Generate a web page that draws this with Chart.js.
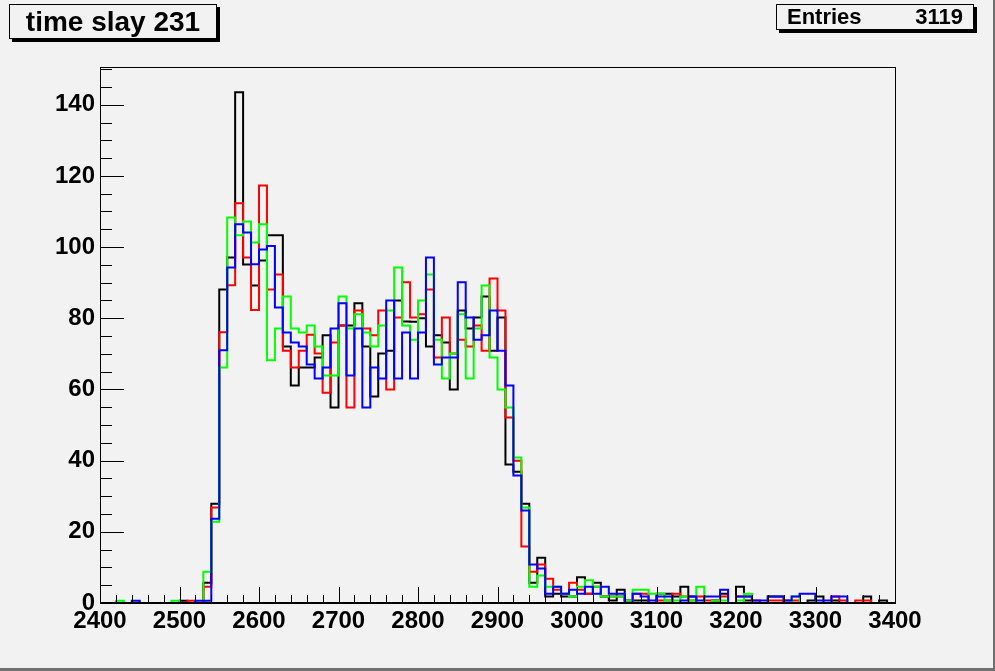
<!DOCTYPE html>
<html>
<head>
<meta charset="utf-8">
<title>time slay 231</title>
<script src="https://cdn.jsdelivr.net/npm/chart.js@4.4.1/dist/chart.umd.min.js"></script>
<style>
  html, body { margin: 0; padding: 0; background: #f2f2f2; }
  #wrap { position: relative; width: 995px; height: 671px; }
  .pave {
    position: absolute; background: #f2f2f2; border: 1px solid #000;
    box-shadow: 3px 3px 0 #000; color: #000;
    font-family: "Liberation Sans", Arial, sans-serif; font-weight: bold;
  }
  #title { left: 9px; top: 4px; width: 206px; height: 33px; font-size: 28px; line-height: 33px; text-align: center; }
  #stats { left: 776px; top: 4px; width: 196px; height: 24px; font-size: 22px; line-height: 24px; }
  #stats .k { position: absolute; left: 10px; }
  #stats .v { position: absolute; right: 10px; }
</style>
</head>
<body>
<div id="wrap">
  <canvas id="dataPlot" width="995" height="671"></canvas>
  <div class="pave" id="title">time slay 231</div>
  <div class="pave" id="stats"><span class="k">Entries</span><span class="v">3119</span></div>
</div>
<script>
// histogram binning: 100 bins of 10 from 2400 to 3400
const xMin = 2400;
const xMax = 3400;
const binWidth = 10;
const yMax = 150.6;

const xTicks = [2400, 2500, 2600, 2700, 2800, 2900, 3000, 3100, 3200, 3300, 3400];
const yTicks = [0, 20, 40, 60, 80, 100, 120, 140];

// bin contents, one row per 100 in x
const blackCounts = [
  0, 0, 0, 0, 0, 0, 0, 0, 0, 0,
  0.6, 0, 0, 5.7, 27.9, 88.1, 97.1, 143.5, 95.1, 89.2,
  96.2, 103.3, 103.3, 72.1, 61.1, 66.2, 66.2, 69.0, 75.2, 54.9,
  78.0, 78.0, 84.2, 72.1, 58.0, 70.1, 70.9, 85.0, 79.1, 79.0,
  80.0, 72.1, 75.2, 73.2, 60.0, 82.2, 77.1, 80.2, 86.1, 70.9,
  80.2, 38.9, 36.9, 27.9, 5.7, 12.7, 1.8, 2.6, 1.8, 1.8,
  7.2, 2.6, 5.7, 1.8, 0.7, 3.7, 0.7, 0.7, 0.7, 0,
  2.6, 2.6, 1.8, 4.6, 1.8, 0, 0, 0.7, 2.6, 0,
  4.6, 0.7, 0, 0, 1.8, 1.8, 0, 0, 0, 0.7,
  1.8, 0, 0.7, 0, 0, 0, 1.8, 0, 0.7, 0
];
const redCounts = [
  0, 0, 0, 0, 0, 0, 0, 0, 0, 0,
  0, 0.6, 0, 4.6, 26.8, 76.1, 89.3, 112.3, 97.1, 82.3,
  117.3, 88.1, 92.3, 70.9, 66.2, 70.9, 75.4, 70.1, 59.1, 73.2,
  78.0, 54.9, 82.2, 77.1, 75.2, 82.2, 60.0, 80.2, 90.1, 80.2,
  81.1, 88.1, 69.0, 80.2, 70.1, 74.0, 72.1, 78.0, 70.9, 91.2,
  82.2, 52.1, 40.0, 15.9, 8.8, 10.8, 6.8, 3.7, 2.6, 5.7,
  3.7, 2.6, 4.6, 1.8, 1.8, 1.8, 0.7, 2.6, 2.6, 0,
  0.7, 0.7, 2.6, 1.8, 0.7, 1.8, 0.7, 0.7, 1.8, 0,
  1.8, 1.8, 0.7, 0, 0.7, 0.7, 0.7, 0.7, 0, 0,
  0, 0, 1.8, 0.7, 0, 0.7, 0.7, 0, 0, 0
];
const greenCounts = [
  0, 0, 0.6, 0, 0, 0, 0, 0, 0, 0.6,
  0, 0, 0, 8.8, 22.8, 66.2, 108.3, 103.3, 107.2, 101.3,
  106.4, 68.2, 77.1, 86.1, 77.1, 76.0, 78.0, 72.1, 63.9, 63.9,
  86.1, 77.1, 81.1, 76.0, 72.1, 78.0, 82.2, 94.3, 78.0, 74.0,
  85.0, 92.3, 74.0, 63.1, 70.1, 81.1, 63.1, 77.1, 89.2, 69.0,
  60.0, 54.9, 40.9, 26.8, 4.6, 7.7, 4.6, 4.6, 2.6, 1.8,
  4.6, 6.4, 4.6, 1.8, 1.8, 1.8, 0.7, 3.7, 3.7, 2.6,
  2.6, 0.7, 0.7, 1.8, 0.7, 4.6, 0, 0.7, 0.7, 0,
  0.7, 2.6, 0, 0, 0, 0, 0, 1.8, 0, 0,
  0, 0, 0, 0, 0, 0, 0, 0, 0, 0
];
const blueCounts = [
  0, 0, 0, 0, 0.6, 0, 0, 0, 0, 0,
  0, 0, 0.6, 0.6, 23.7, 71.0, 94.3, 106.4, 104.1, 95.2,
  99.3, 100.3, 83.0, 76.0, 73.2, 72.1, 67.0, 63.1, 66.2, 77.1,
  84.2, 63.9, 77.1, 54.9, 66.2, 63.1, 85.0, 63.1, 76.0, 63.1,
  76.0, 97.1, 67.0, 69.0, 69.0, 90.1, 80.2, 74.0, 75.2, 82.2,
  70.9, 61.1, 35.8, 26.0, 10.8, 9.7, 2.6, 4.6, 2.6, 3.7,
  2.6, 4.6, 2.6, 4.6, 2.6, 2.6, 0, 2.6, 1.8, 0.7,
  1.8, 1.8, 0, 0.7, 1.8, 0.7, 1.8, 1.8, 3.7, 0,
  1.8, 1.8, 0.7, 0.7, 1.8, 1.8, 0.7, 1.8, 2.6, 2.6,
  0.7, 0.7, 1.8, 1.8, 0, 0, 0, 0, 0, 0
];

const nBins = blackCounts.length;
const binEdges = Array.from({length: nBins + 1}, (_, i) => xMin + i * binWidth);

// step outline: one point per lower bin edge, plus the closing upper edge
function histPoints(counts) {
  const pts = counts.map((v, i) => ({x: binEdges[i], y: v}));
  pts.push({x: binEdges[nBins], y: counts[nBins - 1]});
  return pts;
}

function histSet(label, counts, color) {
  return {
    label: label,
    data: histPoints(counts),
    borderColor: color,
    borderWidth: 2,
    stepped: 'before',
    pointRadius: 0,
    fill: false,
    borderCapStyle: 'butt',
    borderJoinStyle: 'miter'
  };
}

const labelFont = {family: '"Liberation Sans", Arial, sans-serif', size: 24, weight: 'bold'};

// canvas border, frame and ROOT-like inner tick marks
const rootFrame = {
  id: 'rootFrame',
  beforeDraw(chart) {
    const ctx = chart.ctx;
    ctx.save();
    ctx.fillStyle = '#f2f2f2';
    ctx.fillRect(0, 0, chart.width, chart.height);
    ctx.fillStyle = '#707070';
    ctx.fillRect(chart.width - 2, 0, 2, chart.height);
    ctx.fillRect(0, chart.height - 3, chart.width, 3);
    ctx.restore();
  },
  afterDatasetsDraw(chart) {
    const ctx = chart.ctx;
    const a = chart.chartArea;
    const xs = chart.scales.x;
    const ys = chart.scales.y;
    ctx.save();
    ctx.strokeStyle = '#000';
    ctx.lineWidth = 1;
    ctx.strokeRect(Math.round(a.left) + 0.5, Math.round(a.top) + 0.5,
      Math.round(a.right - a.left), Math.round(a.bottom - a.top));
    ctx.beginPath();
    for (let v = xMin; v <= xMax; v += 20) {
      const px = Math.round(xs.getPixelForValue(v)) + 0.5;
      const len = (v % 100 === 0) ? 16 : 8;
      ctx.moveTo(px, a.bottom);
      ctx.lineTo(px, a.bottom - len);
    }
    for (let v = 0; v <= yMax; v += 5) {
      const py = Math.round(ys.getPixelForValue(v)) + 0.5;
      const len = (v % 20 === 0) ? 24 : 12;
      ctx.moveTo(a.left, py);
      ctx.lineTo(a.left + len, py);
    }
    ctx.stroke();
    ctx.lineWidth = 2;
    ctx.beginPath();
    ctx.moveTo(a.left, a.bottom);
    ctx.lineTo(a.right, a.bottom);
    ctx.stroke();
    ctx.restore();
  }
};

new Chart(document.getElementById('dataPlot'), {
  type: 'line',
  data: {
    datasets: [
      histSet('blue', blueCounts, '#0000ff'),
      histSet('green', greenCounts, '#00ff00'),
      histSet('red', redCounts, '#ff0000'),
      histSet('black', blackCounts, '#000000')
    ]
  },
  options: {
    responsive: false,
    animation: false,
    events: [],
    layout: {padding: {top: 67, right: 100, left: 0, bottom: 0}},
    plugins: {
      legend: {display: false},
      title: {display: false},
      tooltip: {enabled: false}
    },
    scales: {
      x: {
        type: 'linear',
        min: xMin,
        max: xMax,
        grid: {display: false, drawTicks: false},
        border: {display: false},
        afterBuildTicks: s => { s.ticks = xTicks.map(v => ({value: v})); },
        afterFit: s => { s.height = 68; },
        ticks: {
          autoSkip: false,
          maxRotation: 0,
          padding: 4,
          color: '#000',
          font: labelFont,
          callback: v => String(v)
        }
      },
      y: {
        type: 'linear',
        min: 0,
        max: yMax,
        grid: {display: false, drawTicks: false},
        border: {display: false},
        afterBuildTicks: s => { s.ticks = yTicks.map(v => ({value: v})); },
        afterFit: s => { s.width = 100; },
        ticks: {
          padding: 5,
          color: '#000',
          font: labelFont,
          callback: v => String(v)
        }
      }
    }
  },
  plugins: [rootFrame]
});
</script>
</body>
</html>
